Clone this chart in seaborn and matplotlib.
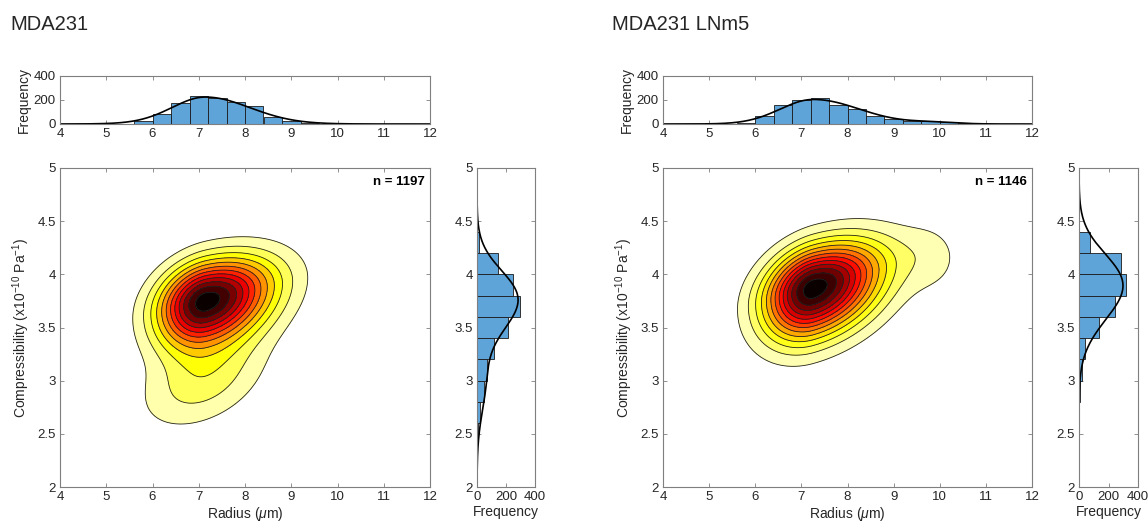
import numpy as np
import pandas as pd
import matplotlib
matplotlib.use("Agg")
import matplotlib.pyplot as plt
import seaborn as sns

# ---------------- data ----------------
TITLES = ["MDA231", "MDA231 LNm5"]
N_CELLS = [1197, 1146]

# radius histograms (bin width 0.4 um)
RAD_EDGES_1 = [5.6, 6.0, 6.4, 6.8, 7.2, 7.6, 8.0, 8.4, 8.8, 9.2, 9.6, 10.0]
RAD_COUNTS_1 = [28, 83, 171, 237, 215, 182, 146, 55, 25, 8, 2]
RAD_EDGES_2 = [5.6, 6.0, 6.4, 6.8, 7.2, 7.6, 8.0, 8.4, 8.8, 9.2, 9.6, 10.0, 10.4, 10.8]
RAD_COUNTS_2 = [5, 69, 160, 199, 215, 160, 124, 69, 41, 28, 22, 17, 5]

# compressibility histograms (bin width 0.2)
CMP_EDGES_1 = [2.4, 2.6, 2.8, 3.0, 3.2, 3.4, 3.6, 3.8, 4.0, 4.2, 4.4]
CMP_COUNTS_1 = [7, 18, 50, 69, 114, 215, 297, 247, 142, 16]
CMP_EDGES_2 = [2.8, 3.0, 3.2, 3.4, 3.6, 3.8, 4.0, 4.2, 4.4]
CMP_COUNTS_2 = [5, 20, 38, 136, 242, 321, 287, 72]

# 2-D density shape:
# core = [centre x, centre y, sd left, sd right, sd up, sd down, ridge slope]
P1_CORE = [7.15, 3.75, 0.70, 0.98, 0.25, 0.28, 0.10]
P2_CORE = [7.26, 3.87, 0.72, 1.00, 0.26, 0.31, 0.12]
# extra lobes = centre x, centre y, sd x, sd y, correlation, relative height
P1_LOBE_X = [7.1]
P1_LOBE_Y = [3.0]
P1_LOBE_SX = [0.9]
P1_LOBE_SY = [0.3]
P1_LOBE_R = [0.4]
P1_LOBE_A = [0.2]
P2_LOBE_X = [9.85]
P2_LOBE_Y = [4.15]
P2_LOBE_SX = [0.5]
P2_LOBE_SY = [0.24]
P2_LOBE_R = [0.0]
P2_LOBE_A = [0.08]
N_LEVELS = [12, 13]

# ---------------- style ----------------
sns.set_theme(style="white")
plt.rcParams["font.family"] = ["Arial", "Liberation Sans", "DejaVu Sans"]
plt.rcParams["mathtext.fontset"] = "custom"
plt.rcParams["mathtext.rm"] = "Liberation Sans"
plt.rcParams["mathtext.it"] = "Liberation Sans:italic"
GREY = "#262626"
BAR = "#5fa4d8"

W, H = 1148, 528
fig = plt.figure(figsize=(W / 100, H / 100), dpi=100)


def px_axes(x0, y0, x1, y1):
    return fig.add_axes([x0 / W, 1 - y1 / H, (x1 - x0) / W, (y1 - y0) / H])


def style(ax):
    for s in ax.spines.values():
        s.set_visible(True)
        s.set_color("#7f7f7f")
        s.set_linewidth(0.8)
    ax.tick_params(direction="in", length=3, width=0.6, colors="#7f7f7f",
                   labelcolor=GREY, labelsize=9.5, top=True, right=True,
                   bottom=True, left=True, pad=3)


def density(core, lx, ly, lsx, lsy, lr, la, X, Y):
    cx, cy, sl, sr, su, sd, sh = core
    dx = X - cx
    u = np.where(dx < 0, dx / sl, dx / sr)
    v0 = Y - cy - sh * dx
    v = np.where(v0 > 0, v0 / su, v0 / sd)
    Z = np.exp(-0.5 * (u * u + v * v))
    for a, b, c, d, r, amp in zip(lx, ly, lsx, lsy, lr, la):
        uu = (X - a) / c
        vv = (Y - b) / d
        q = (uu * uu - 2 * r * uu * vv + vv * vv) / (1 - r * r)
        Z += amp * np.exp(-0.5 * q)
    return Z


xg = np.linspace(4, 12, 600)
yg = np.linspace(2, 5, 450)
X, Y = np.meshgrid(xg, yg)

panels = [
    dict(x0=60, x1=430, rx0=477, rx1=535, title_x=10,
         redges=RAD_EDGES_1, rcounts=RAD_COUNTS_1,
         cedges=CMP_EDGES_1, ccounts=CMP_COUNTS_1,
         dens=(P1_CORE, P1_LOBE_X, P1_LOBE_Y, P1_LOBE_SX, P1_LOBE_SY,
               P1_LOBE_R, P1_LOBE_A)),
    dict(x0=663, x1=1032, rx0=1079, rx1=1138, title_x=612,
         redges=RAD_EDGES_2, rcounts=RAD_COUNTS_2,
         cedges=CMP_EDGES_2, ccounts=CMP_COUNTS_2,
         dens=(P2_CORE, P2_LOBE_X, P2_LOBE_Y, P2_LOBE_SX, P2_LOBE_SY,
               P2_LOBE_R, P2_LOBE_A)),
]

for i, p in enumerate(panels):
    Z = density(*p["dens"], X, Y)
    zmax = Z.max()
    NL = N_LEVELS[i]
    levels = [zmax * k / (NL + 0.6) for k in range(1, NL + 1)] + [zmax * 1.01]
    colors = [plt.cm.hot(1 - k / NL) for k in range(1, NL + 1)]

    # main contour
    ax = px_axes(p["x0"], 168, p["x1"], 487)
    ax.contourf(X, Y, Z, levels=levels, colors=colors)
    ax.contour(X, Y, Z, levels=levels[:-1], colors="#222222", linewidths=0.6)
    ax.set_xlim(4, 12)
    ax.set_ylim(2, 5)
    ax.set_xticks(range(4, 13))
    ax.set_yticks([2, 2.5, 3, 3.5, 4, 4.5, 5])
    ax.set_yticklabels(["2", "2.5", "3", "3.5", "4", "4.5", "5"])
    ax.set_xlabel(r"Radius ($\mu$m)", fontsize=10, color=GREY, labelpad=1)
    ax.set_ylabel(r"Compressibility (x10$^{-10}$ Pa$^{-1}$)", fontsize=10,
                  color=GREY, labelpad=4)
    ax.text(0.985, 0.975, f"n = {N_CELLS[i]}", transform=ax.transAxes,
            ha="right", va="top", fontsize=9.5, fontweight="bold", color="black")
    style(ax)

    # top histogram
    redges = np.array(p["redges"], dtype=float)
    rdf = pd.DataFrame({"radius": (redges[:-1] + redges[1:]) / 2,
                        "count": np.array(p["rcounts"], dtype=float)})
    axt = px_axes(p["x0"], 76, p["x1"], 124)
    sns.histplot(data=rdf, x="radius", weights="count", bins=list(p["redges"]),
                 ax=axt, color=BAR, alpha=1, edgecolor="#1a1a1a", linewidth=0.6)
    dy = yg[1] - yg[0]
    mx_curve = Z.sum(axis=0) * dy
    mx_curve = mx_curve / (mx_curve.sum() * (xg[1] - xg[0])) * N_CELLS[i] * 0.4
    axt.plot(xg, mx_curve, color="black", lw=1.2)
    axt.set_xlim(4, 12)
    axt.set_ylim(0, 400)
    axt.set_xticks(range(4, 13))
    axt.set_yticks([0, 200, 400])
    axt.set_xlabel("")
    axt.set_ylabel("Frequency", fontsize=10, color=GREY, labelpad=2)
    style(axt)

    # right histogram
    cedges = np.array(p["cedges"], dtype=float)
    cdf = pd.DataFrame({"comp": (cedges[:-1] + cedges[1:]) / 2,
                        "count": np.array(p["ccounts"], dtype=float)})
    axr = px_axes(p["rx0"], 168, p["rx1"], 487)
    sns.histplot(data=cdf, y="comp", weights="count", bins=list(p["cedges"]),
                 ax=axr, color=BAR, alpha=1, edgecolor="#1a1a1a", linewidth=0.6)
    dx = xg[1] - xg[0]
    my_curve = Z.sum(axis=1) * dx
    my_curve = my_curve / (my_curve.sum() * (yg[1] - yg[0])) * N_CELLS[i] * 0.2
    axr.plot(my_curve, yg, color="black", lw=1.2)
    axr.set_ylim(2, 5)
    axr.set_xlim(0, 400)
    axr.set_xticks([0, 200, 400])
    axr.set_yticks([2, 2.5, 3, 3.5, 4, 4.5, 5])
    axr.set_yticklabels(["2", "2.5", "3", "3.5", "4", "4.5", "5"])
    axr.set_ylabel("")
    axr.set_xlabel("Frequency", fontsize=10, color=GREY, labelpad=1)
    style(axr)

    fig.text(p["title_x"] / W, 1 - 30 / H, TITLES[i], fontsize=14.5, color=GREY,
             ha="left", va="baseline")

fig.savefig("out.png", dpi=100, facecolor="white")
